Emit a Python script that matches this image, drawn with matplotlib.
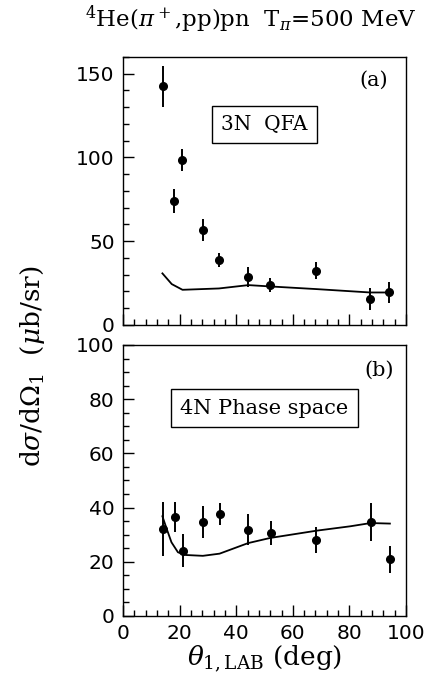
import matplotlib
matplotlib.use("Agg")
import matplotlib.pyplot as plt
from matplotlib.ticker import MultipleLocator

plt.rcParams['mathtext.fontset'] = 'dejavuserif'

# Panel (a): 3N QFA
theta_a = [14, 18, 21, 28.2, 34, 44.2, 52, 68.1, 87.3, 94.1]
xs_a = [142.4, 74, 98.4, 56.5, 38.9, 28.4, 24, 32.3, 15.5, 19.4]
err_a = [12, 7, 6.5, 6.5, 4, 6, 4.3, 5, 6.3, 6]
curve_a_x = [13.9, 17.2, 21, 33.9, 44.3, 52, 68.5, 87.3, 94.3]
curve_a_y = [30.8, 24.4, 21.0, 21.8, 23.8, 23.0, 21.4, 19.4, 19.4]

# Panel (b): 4N phase space
theta_b = [14.2, 18.3, 21.3, 28.3, 34.3, 44.3, 52.2, 68.2, 87.5, 94.3]
xs_b = [32.2, 36.4, 24.1, 34.6, 37.6, 31.9, 30.6, 28.1, 34.6, 21.0]
err_b = [10, 5.5, 6, 6, 4, 5.8, 4.3, 4.7, 7, 5]
curve_b_x = [13.9, 15.3, 17.1, 19.4, 22.3, 28.2, 34.1, 44.2, 52, 68.5, 80.3, 87.5, 94.3]
curve_b_y = [36.8, 32.5, 27.2, 23.5, 22.5, 22.2, 23.0, 26.9, 28.8, 31.5, 33.1, 34.3, 34.1]

fig = plt.figure(figsize=(4.38, 6.79), dpi=100)
ax_a = fig.add_axes([0.281, 0.5214, 0.646, 0.3947])
ax_b = fig.add_axes([0.281, 0.0928, 0.646, 0.3991])

serif = 'DejaVu Serif'

def style(ax, ymax, ymaj, ymin):
    ax.set_xlim(0, 100)
    ax.set_ylim(0, ymax)
    ax.xaxis.set_major_locator(MultipleLocator(20))
    ax.xaxis.set_minor_locator(MultipleLocator(4))
    ax.yaxis.set_major_locator(MultipleLocator(ymaj))
    ax.yaxis.set_minor_locator(MultipleLocator(ymin))
    ax.tick_params(which='both', direction='in', top=False, right=False,
                   width=1, labelsize=14.5, pad=6)
    ax.tick_params(which='major', length=8)
    ax.tick_params(which='minor', length=4)
    for s in ax.spines.values():
        s.set_linewidth(1)

style(ax_a, 160, 50, 10)
style(ax_b, 100, 20, 5)
ax_a.tick_params(labelbottom=False)

ax_a.errorbar(theta_a, xs_a, yerr=err_a, fmt='o', color='black', ms=5.5,
              elinewidth=1.4, capsize=0)
ax_a.plot(curve_a_x, curve_a_y, color='black', lw=1.3)
ax_b.errorbar(theta_b, xs_b, yerr=err_b, fmt='o', color='black', ms=5.5,
              elinewidth=1.4, capsize=0)
ax_b.plot(curve_b_x, curve_b_y, color='black', lw=1.3)

box = dict(boxstyle='square,pad=0.45', fc='white', ec='black', lw=1)
ax_a.text(50, 119.6, '3N  QFA', family=serif, fontsize=14.5, ha='center',
          va='center', bbox=box)
ax_b.text(50, 76.7, '4N Phase space', family=serif, fontsize=15, ha='center',
          va='center', bbox=box)
ax_a.text(88.7, 146, '(a)', family=serif, fontsize=15, ha='center', va='center')
ax_b.text(90.6, 90.5, '(b)', family=serif, fontsize=15, ha='center', va='center')

fig.text(0.572, 0.972, r'$^4$He($\pi^+$,pp)pn  T$_\pi$=500 MeV', family=serif,
         fontsize=16.5, ha='center', va='center')
fig.text(0.075, 0.46, r'd$\sigma$/d$\Omega_1$  ($\mu$b/sr)', family=serif,
         fontsize=19, ha='center', va='center', rotation=90)
ax_b.set_xlabel(r'$\theta_{1,\mathrm{LAB}}$ (deg)', family=serif, fontsize=19,
                labelpad=0)

fig.savefig('out.png', dpi=100)
